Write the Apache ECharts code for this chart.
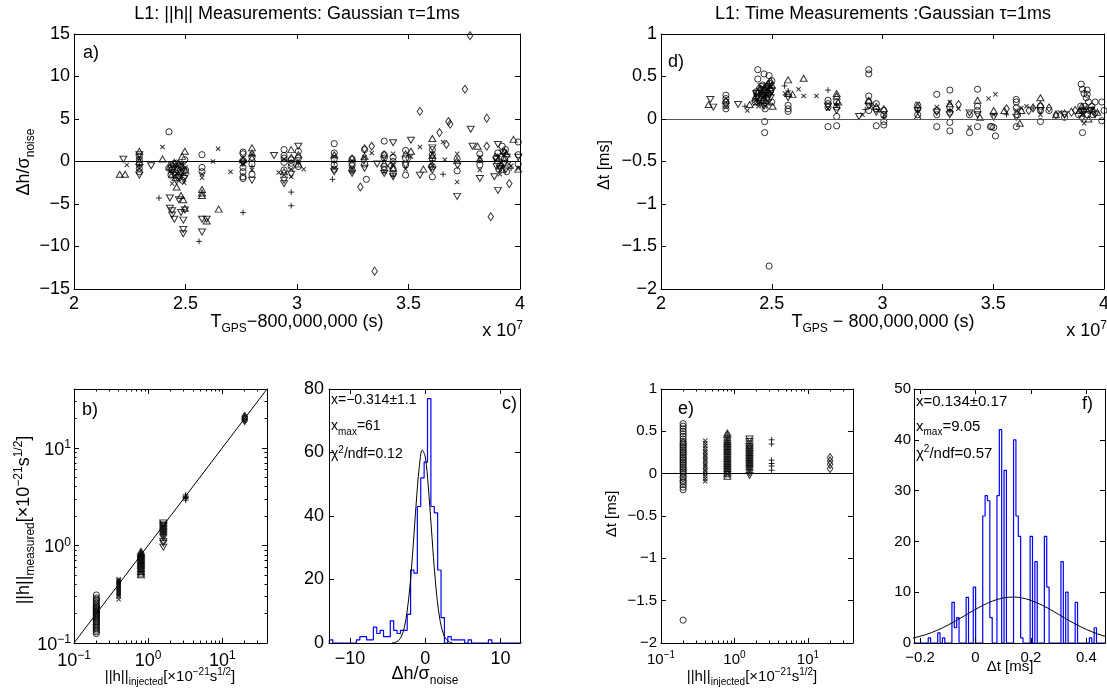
<!DOCTYPE html>
<html>
<head>
<meta charset="utf-8">
<script src="https://cdn.jsdelivr.net/npm/echarts@6.0.0/dist/echarts.min.js"></script>
<style>html,body{margin:0;padding:0;background:#fff;}#chart{width:1107px;height:689px;}</style>
</head>
<body>
<div id="chart"></div>
<script>
// ================= DATA =================
// panel a) : [T_GPS (x1e7), dh/sigma]
const a_circle = [[2.293,0.6],[2.293,0.2],[2.293,-0.3],[2.293,-0.8],[2.293,-1.2],
 [2.426,3.5],[2.435,-0.4],[2.44,-0.9],[2.45,-1.3],[2.46,-0.2],[2.47,-1.9],[2.48,-0.6],[2.49,-1.1],[2.497,0.2],[2.50,-1.0],[2.485,-2.2],[2.455,-1.6],
 [2.425,-0.8],[2.435,-1.6],[2.445,-0.3],[2.465,-1.0],[2.475,-0.4],[2.49,-1.8],
 [2.574,0.8],[2.574,-0.7],[2.574,-1.2],
 [2.758,1.1],[2.758,0.9],[2.758,-0.7],[2.758,-1.8],[2.758,-2.0],[2.758,0.1],[2.758,-1.2],[2.798,0.5],[2.798,-0.3],[2.798,-1.5],
 [2.942,1.4],[2.942,0.7],[2.942,-1.0],[2.942,-0.1],[2.942,0.4],[2.974,0.2],[2.974,-0.6],[2.974,-0.2],[3.006,1.2],[3.006,0.4],[3.006,-0.6],
 [3.167,2.1],[3.167,1.0],[3.167,0.3],[3.167,-0.4],[3.167,-0.9],[3.247,0.3],[3.247,-0.5],[3.247,-1.0],[3.247,-0.2],
 [3.303,1.4],[3.311,-2.1],[3.303,-0.3],[3.391,2.4],[3.391,0.8],[3.391,-0.6],[3.391,0.4],[3.391,-1.0],[3.431,0.5],[3.431,-1.4],[3.431,0.0],[3.431,-0.9],
 [3.487,1.3],[3.487,-1.6],[3.487,0.4],[3.487,-0.4],[3.607,1.4],[3.607,-1.8],[3.607,0.3],[3.607,-0.6],[3.607,0.8],[3.718,-1.1],[3.718,0.3],
 [3.82,0.9],[3.82,-0.4],[3.90,1.0],[3.91,-0.5],[3.92,1.8],[3.93,0.3],[3.94,-1.2],[3.895,0.4],[3.905,-0.9],[3.915,0.6],[3.925,-0.2],[3.935,1.4],
 [3.992,2.3],[3.992,0.8],[3.992,-0.3]];
const a_x = [[2.237,-0.4],[2.293,-0.9],[2.293,0.4],[2.397,1.7],[2.43,-1.2],[2.44,-2.6],[2.45,-0.5],[2.46,-1.4],[2.48,-1.6],[2.494,-2.5],[2.50,-0.7],
 [2.47,-2.1],[2.485,-0.9],
 [2.574,-1.5],[2.574,-1.9],[2.623,0],[2.646,1.5],[2.702,-1.2],[2.758,-0.3],[2.758,0.4],[2.798,-1.0],[2.798,0.9],[2.918,-1.3],[2.942,-1.6],[2.942,0.3],
 [2.974,-1.8],[2.974,-0.9],[3.03,-0.9],[3.006,0.1],[3.167,0.6],[3.167,-0.8],[3.247,-0.8],[3.247,0.1],[3.303,0.5],[3.335,1.0],[3.391,-1.2],[3.391,0.2],
 [3.431,-0.3],[3.431,0.9],[3.487,-0.9],[3.511,0.6],[3.551,1.7],[3.607,-0.5],[3.607,0.9],[3.655,2.3],[3.663,0.2],[3.718,0.9],[3.718,-2.4],
 [3.82,-1.0],[3.82,0.5],[3.89,0.2],[3.91,-1.5],[3.93,0.8],[3.95,-0.3],[3.96,-0.5],[3.992,-0.8]];
const a_plus = [[2.381,-4.3],[2.561,-9.4],[2.758,-6.0],[2.974,-3.6],[2.974,-5.2],[3.159,-2.1],[3.655,-1.5],[3.96,-0.8],[2.45,-1.0],[2.49,-0.3],
 [3.247,-1.2],[3.431,-1.7],[3.90,0.6],[2.293,-0.5],[2.798,-0.6],[3.006,-0.2],[3.167,-0.1],[3.607,0.1],[3.82,0.1]];
const a_tri = [[2.205,-1.5],[2.229,-1.5],[2.293,1.2],[2.293,0.0],[2.397,0.3],[2.44,-1.5],[2.45,-0.1],[2.46,-3.0],[2.47,-0.2],[2.48,-4.0],[2.49,-4.5],
 [2.497,-5.5],[2.497,1.2],[2.50,-1.1],[2.43,-0.6],[2.455,-1.9],[2.475,-1.2],[2.485,0.6],
 [2.574,-3.3],[2.574,-3.7],[2.574,-4.0],[2.595,-7.0],[2.649,-5.6],[2.798,1.6],[2.798,1.0],[2.798,0.4],[2.758,0.2],
 [2.942,-1.2],[2.974,1.4],[2.974,0.5],[3.006,0.8],[3.006,-0.3],[3.167,0.8],[3.247,0.4],[3.303,0.6],[3.391,0.9],[3.391,-0.2],[3.431,-0.8],[3.487,0.9],
 [3.511,1.2],[3.567,-0.9],[3.607,2.7],[3.607,0.7],[3.718,0.1],[3.81,1.8],[3.82,0.3],[3.92,-0.9],[3.93,1.2],[3.9,0.1],[3.915,-0.4],[3.94,0.9],
 [3.971,2.6],[3.992,-0.9]];
const a_tridown = [[2.221,0.27],[2.293,0.8],[2.293,-1.6],[2.346,-0.5],[2.43,-4.3],[2.43,-5.5],[2.44,-5.8],[2.44,-6.3],[2.45,-6.8],[2.46,-2.3],[2.47,-4.5],
 [2.48,-6.0],[2.49,-6.9],[2.49,-8.0],[2.49,-8.5],[2.497,-5.7],[2.44,-1.1],[2.465,-0.6],[2.48,-1.4],[2.495,-2.0],
 [2.574,-6.8],[2.574,-8.3],[2.595,-6.8],[2.758,-0.2],[2.798,-2.2],[2.897,0.7],[2.942,-2.6],
 [2.942,-2.2],[3.006,1.8],[2.974,-1.5],[3.167,-1.2],[3.247,-1.4],[3.303,-0.8],[3.359,-0.3],[3.391,-1.4],[3.431,2.2],[3.431,-1.8],[3.487,-0.4],[3.511,2.5],
 [3.551,-1.6],[3.607,1.6],[3.607,-1.0],[3.718,-4.1],[3.779,3.8],[3.787,1.8],[3.82,-2.0],[3.885,-1.8],[3.901,-3.4],[3.901,2.0],[3.91,-0.8],[3.93,-0.2],
 [3.895,-0.6],[3.925,1.0],[3.935,-1.0],[3.94,0.5],[3.992,0.5]];
const a_diamond = [[3.284,-3.0],[3.303,1.5],[3.335,1.8],[3.348,-12.9],[3.551,5.9],[3.639,3.4],[3.67,2.0],[3.679,4.7],[3.687,4.4],[3.753,8.5],[3.776,14.8],
 [3.851,5.1],[3.851,1.8],[3.869,-6.5],[3.952,-2.6],[3.42,-0.5],[3.5,0.4],[3.6,-0.6],[3.30,0.2],[3.72,-0.3],[3.89,0.5]];

// panel d) : [T_GPS (x1e7), dt ms]
const d_circle = [[2.293,0.28],[2.293,0.24],[2.293,0.2],[2.293,0.16],[2.293,0.12],
 [2.437,0.58],[2.437,0.47],[2.465,0.53],[2.488,0.51],[2.468,-0.03],[2.468,-0.16],[2.488,-1.73],[2.45,0.35],[2.47,0.3],[2.49,0.42],[2.50,0.45],[2.44,0.25],
 [2.48,0.38],[2.43,0.32],[2.46,0.4],[2.47,0.12],[2.425,0.2],[2.435,0.3],[2.445,0.36],[2.455,0.28],[2.465,0.22],[2.475,0.38],[2.485,0.3],[2.495,0.34],[2.50,0.2],
 [2.574,0.16],[2.574,0.12],[2.574,0.09],
 [2.754,0.22],[2.754,0.18],[2.754,-0.09],[2.754,0.14],[2.793,0.2],[2.793,-0.08],[2.793,0.03],[2.793,0.14],[2.938,0.58],[2.938,0.53],[2.938,0.27],[2.938,0.2],[2.938,0.1],
 [2.972,-0.08],[2.972,0.18],[2.972,0.12],[3.006,-0.03],[3.006,-0.07],[3.006,0.1],[3.006,0.05],[3.159,0.05],[3.159,0.12],[3.159,0.16],
 [3.245,0.29],[3.245,-0.09],[3.245,0.1],[3.245,0.05],
 [3.304,0.34],[3.304,-0.04],[3.304,-0.14],[3.304,0.08],[3.304,0.14],[3.393,-0.16],[3.393,0.05],[3.429,0.35],[3.429,-0.09],[3.429,0.1],[3.429,0.15],
 [3.487,-0.09],[3.493,-0.09],[3.51,-0.2],[3.502,-0.1],[3.604,0.23],[3.604,0.2],[3.604,-0.09],[3.61,0.05],[3.604,0.13],[3.713,-0.03],[3.713,0.1],[3.713,0.15],
 [3.752,0.1],[3.822,0.02],[3.897,0.41],[3.903,0.35],[3.91,0.3],[3.903,-0.16],[3.92,0.25],[3.924,0.34],[3.924,0.29],[3.93,0.2],[3.9,0.1],
 [3.885,0.05],[3.895,0.15],[3.905,0.1],[3.915,0.15],[3.925,0.05],[3.935,0.1],[3.945,0.15],
 [3.95,0.05],[3.96,0.2],[3.99,0.2],[3.99,-0.02],[4.0,0.1]];
const d_x = [[2.39,0.1],[2.293,0.14],[2.43,0.22],[2.44,0.15],[2.45,0.2],[2.47,0.15],[2.48,0.28],[2.49,0.2],[2.50,0.3],[2.425,0.18],[2.465,0.27],[2.495,0.38],
 [2.56,0.3],[2.621,0.35],[2.644,0.27],
 [2.702,0.27],[2.754,0.12],[2.793,0.15],[2.91,0.05],[2.95,0.15],[2.98,0.1],[3.01,0.05],[3.159,0.18],[3.245,0.14],[3.304,0.2],[3.343,0.12],[3.393,-0.1],
 [3.479,0.24],[3.51,0.29],[3.502,0.05],[3.604,0.1],[3.627,0.13],[3.65,0.15],[3.713,0.05],[3.8,0.08],[3.9,0.05],[3.91,-0.05],[3.95,0.12]];
const d_plus = [[2.379,0.15],[2.558,0.39],[2.754,0.34],[2.922,0.11],[3.159,0.1],[3.56,0.05],[3.68,0.13],[3.9,0.08],[2.47,0.25],[3.304,0.1],[2.574,0.33],
 [2.793,0.18],[3.006,0.02]];
const d_tri = [[2.215,0.17],[2.293,0.22],[2.40,0.17],[2.504,0.15],[2.43,0.28],[2.44,0.33],[2.45,0.25],[2.46,0.22],[2.46,0.3],[2.47,0.35],[2.48,0.33],
 [2.49,0.37],[2.50,0.4],[2.425,0.25],[2.455,0.32],[2.475,0.2],[2.485,0.42],[2.495,0.45],
 [2.574,0.46],[2.574,0.3],[2.594,0.29],[2.644,0.48],[2.793,0.3],[2.793,0.27],[2.80,0.2],[2.938,0.22],[2.972,0.15],[3.006,0.12],
 [3.159,0.03],[3.304,0.18],[3.429,0.22],[3.502,0.1],[3.55,0.1],[3.627,0.1],[3.713,0.25],[3.713,0.17],[3.783,0.05],[3.9,0.15],[3.93,0.0],[3.97,0.08],
 [3.89,0.1],[3.92,0.12],[3.44,0.02],[3.62,-0.05]];
const d_tridown = [[2.223,0.23],[2.236,0.14],[2.348,0.17],[2.43,0.3],[2.44,0.2],[2.45,0.18],[2.46,0.34],[2.47,0.27],[2.48,0.24],[2.49,0.28],[2.50,0.33],
 [2.435,0.25],[2.455,0.38],[2.465,0.15],[2.485,0.36],[2.495,0.25],
 [2.574,0.25],[2.754,0.15],[2.793,0.1],[2.894,0.03],[2.938,0.15],[2.972,0.08],[3.159,0.1],[3.245,0.08],[3.304,0.05],[3.393,0.07],[3.429,0.05],
 [3.502,0.02],[3.604,0.02],[3.713,0.1],[3.822,0.05],[3.9,0.0],[3.91,0.08],[3.94,0.1],[3.96,0.05]];
const d_diamond = [[3.343,0.17],[3.68,0.13],[3.66,0.1],[3.752,0.13],[3.783,0.05],[3.822,0.06],[3.853,0.08],[3.87,0.1],[3.95,0.1],[3.56,0.12]];

// injected amplitudes (circle, x, tri-up, tri-down, plus, diamond)
const amps = [0.2, 0.4, 0.8, 1.6, 3.2, 20];
// panel b) measured ||h||
const b_circle_y = [0.125,0.13,0.135,0.14,0.145,0.15,0.155,0.16,0.165,0.17,0.175,0.18,0.185,0.19,0.195,0.2,0.205,0.21,0.215,0.22,0.225,0.23,0.235,0.24,0.25,0.26,0.27,0.28,0.29,0.31];
const b_x_y = [0.28,0.3,0.31,0.32,0.33,0.34,0.35,0.36,0.37,0.38,0.39,0.4,0.41,0.42,0.43,0.44,0.45];
const b_tri_y = [0.5,0.52,0.54,0.56,0.58,0.6,0.62,0.64,0.66,0.68,0.7,0.72,0.74,0.76,0.78,0.8,0.82,0.84,0.87];
const b_tridown_y = [0.96,1.05,1.1,1.2,1.25,1.3,1.35,1.4,1.45,1.5,1.55,1.6,1.65,1.7];
const b_plus_y = [2.9,3.0,3.05,3.1,3.15,3.2,3.3];
const b_diamond_y = [19.0,19.5,20.0,20.5,21.0];
const b_diag = [[0.1,0.1],[40,40]];
// panel e) dt
const e_circle_y = [-1.73,-0.19,-0.16,-0.13,-0.1,-0.08,-0.05,-0.03,0,0.02,0.04,0.06,0.08,0.1,0.12,0.14,0.16,0.18,0.2,0.22,0.24,0.26,0.28,0.3,0.32,0.34,0.36,0.38,0.41,0.44,0.47,0.5,0.53,0.56,0.59];
const e_x_y = [-0.09,-0.06,-0.03,0,0.03,0.05,0.08,0.1,0.12,0.15,0.17,0.2,0.22,0.25,0.27,0.3,0.33,0.36,0.39];
const e_tri_y = [-0.03,0,0.02,0.04,0.06,0.08,0.1,0.12,0.14,0.16,0.18,0.2,0.22,0.24,0.26,0.28,0.3,0.32,0.34,0.36,0.38,0.4,0.43,0.46,0.48];
const e_tridown_y = [-0.02,0.01,0.04,0.06,0.08,0.1,0.12,0.14,0.16,0.18,0.2,0.22,0.24,0.26,0.28,0.3,0.32,0.35,0.38,0.41];
const e_plus_y = [0.04,0.09,0.12,0.16,0.35,0.4];
const e_diamond_y = [0.06,0.11,0.15,0.19];

// panel c) histogram of dh/sigma
const c_binStart = -12.75, c_binWidth = 0.45;
const c_counts = [1,0,0,0,0,0,0,0, 1,2,2,1,1, 5,3,4,2,2, 7,4,3,4,4, 9,23,22,43,52, 57,77,43,41,23, 8,0,2,1,1, 1,1,0,1,0, 0,0,0,0,1, 0,0,0,0,0,0,0,0,0];
const c_fit = [[-4.4,0.06],[-4.0,0.22],[-3.6,0.70],[-3.2,1.95],[-2.8,4.75],[-2.4,10.1],[-2.0,18.8],[-1.6,30.8],[-1.2,44.1],[-0.8,55.3],[-0.4,60.8],
 [0.0,58.6],[0.4,49.4],[0.8,36.5],[1.2,23.7],[1.6,13.4],[2.0,6.67],[2.4,2.91],[2.8,1.11],[3.2,0.37],[3.6,0.1]];
// panel f) histogram of dt
const f_binStart = -0.222, f_binWidth = 0.00855;
const f_counts = [0,0,0,0,0,0,1,0,0,0, 2,0,1,0,0,0,8,3,5,0, 0,0,9,0,0,11,0,0,0,25, 29,28,5,0,0,29,42,0,34,0,
 0,0,40,25,21,1,0,0,0,21, 0,16,0,0,0,21,11,0,0,0, 0,0,16,0,10,0,0,0,8,0, 0,0,0,0,1,0,3,0,0,0,0];
const f_fit = [[-0.26,0.62],[-0.22,1.04],[-0.18,1.64],[-0.14,2.47],[-0.10,3.51],[-0.06,4.72],[-0.02,6.00],[0.02,7.23],[0.06,8.23],[0.10,8.87],[0.14,9.04],
 [0.18,8.72],[0.22,7.96],[0.26,6.88],[0.30,5.62],[0.34,4.34],[0.38,3.18],[0.42,2.20],[0.46,1.44],[0.50,0.89]];

// tick values
const timeTicks = [2, 2.5, 3, 3.5, 4];
const logMajor = [0.1, 1, 10];
const logMinor = [0.2,0.3,0.4,0.5,0.6,0.7,0.8,0.9,2,3,4,5,6,7,8,9,20,30];
const cXTicks = [-10, 0, 10];
const fXTicks = [-0.2, 0, 0.2, 0.4];

// ================= STYLE / BUILD =================
const FONT = '"Liberation Sans", Arial, Helvetica, sans-serif';
const minus = v => String(v).replace('-', '\u2212');
function labelRich(M, S) {
  return {
    m: {fontSize: M, fontFamily: FONT, color: '#000', lineHeight: M, verticalAlign: 'top', padding: [2,0,0,0]},
    p: {fontSize: S, fontFamily: FONT, color: '#000', lineHeight: S, verticalAlign: 'top'}
  };
}
const logFmt = v => '{m|10}{p|' + minus(Math.round(Math.log10(v))) + '}';

const xAxes = [], yAxes = [];
function mkAxis(g, pos, s, o) {
  const ax = {
    gridIndex: g, position: pos, type: s.type, min: s.min, max: s.max, silent: true, z: 5,
    axisLine: {show: o.line !== false, onZero: false, lineStyle: {color: '#000', width: 1}},
    axisTick: {show: true, inside: true, length: o.len || 5, lineStyle: {color: '#000', width: 1}},
    axisLabel: {show: !!o.label, color: '#000', fontFamily: FONT, fontSize: o.fs || 18,
      margin: o.margin == null ? 6 : o.margin, showMinLabel: true, showMaxLabel: true, hideOverlap: false},
    splitLine: {show: false}, splitArea: {show: false}, minorTick: {show: false}, minorSplitLine: {show: false}
  };
  if (s.type === 'log') { ax.logBase = 10; ax.axisLabel.formatter = logFmt; ax.axisLabel.rich = labelRich(o.fs || 18, o.sfs || 12); }
  else { ax.axisLabel.formatter = minus; if (s.interval) ax.interval = s.interval; }
  const tv = o.ticks || s.ticks;
  if (tv) { ax.axisTick.customValues = tv; ax.axisLabel.customValues = tv; }
  return ax;
}
function addPanel(g, xs, ys, L) {
  const xi = xAxes.length, yi = yAxes.length;
  xAxes.push(mkAxis(g, 'bottom', xs, {label: true, fs: L.xfs, sfs: L.xsfs, margin: L.xm}));
  xAxes.push(mkAxis(g, 'top', xs, {}));
  if (xs.minor) {
    xAxes.push(mkAxis(g, 'bottom', xs, {line: false, len: 2.5, ticks: xs.minor}));
    xAxes.push(mkAxis(g, 'top', xs, {line: false, len: 2.5, ticks: xs.minor}));
  }
  yAxes.push(mkAxis(g, 'left', ys, {label: true, fs: L.yfs, sfs: L.ysfs, margin: L.ym}));
  yAxes.push(mkAxis(g, 'right', ys, {}));
  if (ys.minor) {
    yAxes.push(mkAxis(g, 'left', ys, {line: false, len: 2.5, ticks: ys.minor}));
    yAxes.push(mkAxis(g, 'right', ys, {line: false, len: 2.5, ticks: ys.minor}));
  }
  return {xi, yi};
}

const grids = [
  {left: 74,  top: 34,  width: 446, height: 255},
  {left: 661, top: 34,  width: 443, height: 255},
  {left: 74,  top: 389, width: 193, height: 254},
  {left: 329, top: 389, width: 191, height: 254},
  {left: 661, top: 389, width: 192, height: 254},
  {left: 914, top: 389, width: 191, height: 254}
].map(g => Object.assign({show: false, containLabel: false, outerBoundsMode: 'none'}, g));

const P_a = addPanel(0, {type:'value', min:2, max:4, interval:0.5}, {type:'value', min:-15, max:15, interval:5}, {xfs:18, yfs:18, xm:6, ym:4});
const P_d = addPanel(1, {type:'value', min:2, max:4, interval:0.5}, {type:'value', min:-2, max:1, interval:0.5}, {xfs:18, yfs:18, xm:6, ym:4});
const P_b = addPanel(2, {type:'log', min:0.1, max:40, ticks:logMajor, minor:logMinor}, {type:'log', min:0.1, max:40, ticks:logMajor, minor:logMinor}, {xfs:18, xsfs:12, yfs:18, ysfs:12, xm:7, ym:3});
const P_c = addPanel(3, {type:'value', min:-12.8, max:12.6, ticks:cXTicks}, {type:'value', min:0, max:80, interval:20}, {xfs:18, yfs:18, xm:7, ym:5});
const P_e = addPanel(4, {type:'log', min:0.1, max:41, ticks:logMajor, minor:logMinor}, {type:'value', min:-2, max:1, interval:0.5}, {xfs:15, xsfs:10, yfs:15, xm:7, ym:4});
const P_f = addPanel(5, {type:'value', min:-0.222, max:0.467, ticks:fXTicks}, {type:'value', min:0, max:50, interval:10}, {xfs:15, yfs:15, xm:7, ym:3});

const MK = {
  circle:  {symbol: 'circle', size: 6.2},
  x:       {symbol: 'path://M0,0L10,10M10,0L0,10', size: 4.3},
  plus:    {symbol: 'path://M5,0L5,10M0,5L10,5', size: 5.8},
  tri:     {symbol: 'triangle', size: [7, 6]},
  tridown: {symbol: 'triangle', size: [7, 6], rot: 180},
  diamond: {symbol: 'diamond', size: [5.5, 8]}
};
function sc(P, data, kind) {
  const m = MK[kind];
  return {type: 'scatter', xAxisIndex: P.xi, yAxisIndex: P.yi, data: data, symbol: m.symbol, symbolSize: m.size,
    symbolRotate: m.rot || 0, itemStyle: {color: 'none', borderColor: '#000', borderWidth: 1},
    silent: true, animation: false, emphasis: {disabled: true}, z: 3};
}
function zero(s, color) {
  s.markLine = {silent: true, symbol: 'none', animation: false, label: {show: false},
    lineStyle: {color: color, width: 1, type: 'solid'}, data: [{yAxis: 0}]};
  return s;
}
function stairs(start, w, counts) {
  const pts = [[start, 0]];
  counts.forEach((c, k) => pts.push([start + k * w, c]));
  pts.push([start + counts.length * w, 0]);
  return pts;
}
const col = (amp, ys) => ys.map(y => [amp, y]);

const series = [
  zero(sc(P_a, a_circle, 'circle'), '#000'), sc(P_a, a_x, 'x'), sc(P_a, a_plus, 'plus'),
  sc(P_a, a_tri, 'tri'), sc(P_a, a_tridown, 'tridown'), sc(P_a, a_diamond, 'diamond'),
  zero(sc(P_d, d_circle, 'circle'), '#555'), sc(P_d, d_x, 'x'), sc(P_d, d_plus, 'plus'),
  sc(P_d, d_tri, 'tri'), sc(P_d, d_tridown, 'tridown'), sc(P_d, d_diamond, 'diamond'),
  {type: 'line', xAxisIndex: P_b.xi, yAxisIndex: P_b.yi, data: b_diag, symbol: 'none', silent: true, animation: false,
   lineStyle: {color: '#000', width: 1}, z: 2},
  sc(P_b, col(amps[0], b_circle_y), 'circle'), sc(P_b, col(amps[1], b_x_y), 'x'), sc(P_b, col(amps[2], b_tri_y), 'tri'),
  sc(P_b, col(amps[3], b_tridown_y), 'tridown'), sc(P_b, col(amps[4], b_plus_y), 'plus'), sc(P_b, col(amps[5], b_diamond_y), 'diamond'),
  {type: 'line', xAxisIndex: P_c.xi, yAxisIndex: P_c.yi, data: stairs(c_binStart, c_binWidth, c_counts), step: 'end',
   symbol: 'none', silent: true, animation: false, lineStyle: {color: '#0000ff', width: 1.2}, z: 2},
  {type: 'line', xAxisIndex: P_c.xi, yAxisIndex: P_c.yi, data: c_fit, smooth: 0.35, symbol: 'none', silent: true,
   animation: false, lineStyle: {color: '#000', width: 1}, z: 3},
  zero(sc(P_e, col(amps[0], e_circle_y), 'circle'), '#000'), sc(P_e, col(amps[1], e_x_y), 'x'), sc(P_e, col(amps[2], e_tri_y), 'tri'),
  sc(P_e, col(amps[3], e_tridown_y), 'tridown'), sc(P_e, col(amps[4], e_plus_y), 'plus'), sc(P_e, col(amps[5], e_diamond_y), 'diamond'),
  {type: 'line', xAxisIndex: P_f.xi, yAxisIndex: P_f.yi, data: stairs(f_binStart, f_binWidth, f_counts), step: 'end',
   symbol: 'none', silent: true, animation: false, lineStyle: {color: '#0000ff', width: 1.2}, z: 2},
  {type: 'line', xAxisIndex: P_f.xi, yAxisIndex: P_f.yi, data: f_fit, smooth: 0.35, symbol: 'none', silent: true,
   animation: false, lineStyle: {color: '#000', width: 1}, z: 3}
];

// ----- texts -----
function rs(M, S) {
  const f = {fontFamily: FONT, fill: '#000', color: '#000'};
  const c = Math.round(M * 0.62 + 1);
  return {
    m: Object.assign({fontSize: M, lineHeight: M, verticalAlign: 'top', padding: [2,0,0,0]}, f),
    p: Object.assign({fontSize: S, lineHeight: S, verticalAlign: 'top', padding: [0,0,0,0]}, f),
    b: Object.assign({fontSize: S, lineHeight: S, verticalAlign: 'top', padding: [c,0,0,0]}, f)
  };
}
function T(x, y, text, M, S, o) {
  o = o || {};
  const al = o.align || 'center';
  return {type: 'text', x: x, y: y, rotation: o.rot || 0, silent: true, z: 100,
    style: {text: text, rich: rs(M, S || Math.round(M * 0.67)), fontSize: M, fontFamily: FONT, fill: '#000',
      align: al, textAlign: al, verticalAlign: 'middle', textVerticalAlign: 'middle'}};
}
const R90 = Math.PI / 2;
const graphics = [
  T(297, 14, 'L1: ||h|| Measurements: Gaussian \u03c4=1ms', 18),
  T(883, 14, 'L1: Time Measurements :Gaussian \u03c4=1ms', 18),
  T(22, 162, '{m|\u0394h/\u03c3}{b|noise}', 18, 12, {rot: R90}),
  T(297, 320, '{m|T}{b|GPS}{m|\u2212800,000,000 (s)}', 18, 12),
  T(523, 329, '{m|x 10}{p|7}', 18, 12, {align: 'right'}),
  T(83, 53, 'a)', 18, 12, {align: 'left'}),
  T(605, 165, '\u0394t [ms]', 16, 11, {rot: R90}),
  T(883, 320, '{m|T}{b|GPS}{m| \u2212 800,000,000 (s)}', 18, 12),
  T(1107, 329, '{m|x 10}{p|7}', 18, 12, {align: 'right'}),
  T(668, 62, 'd)', 18, 12, {align: 'left'}),
  T(170, 675, '{m|||h||}{b|injected}{m|[\u00d710}{p|\u221221}{m|s}{p|1/2}{m|]}', 15, 10),
  T(22, 520, '{m|||h||}{b|measured}{m|[\u00d710}{p|\u221221}{m|s}{p|1/2}{m|]}', 18, 12, {rot: R90}),
  T(82, 410, 'b)', 18, 12, {align: 'left'}),
  T(425, 672, '{m|\u0394h/\u03c3}{b|noise}', 18, 12),
  T(331, 400, 'x=\u22120.314\u00b11.1', 14, 10, {align: 'left'}),
  T(331, 424, '{m|x}{b|max}{m|=61}', 14, 10, {align: 'left'}),
  T(331, 452, '{m|\u03c7}{p|2}{m|/ndf=0.12}', 14, 10, {align: 'left'}),
  T(517, 404, 'c)', 18, 12, {align: 'right'}),
  T(752, 675, '{m|||h||}{b|injected}{m|[\u00d710}{p|\u221221}{m|s}{p|1/2}{m|]}', 15, 10),
  T(612, 514, '\u0394t [ms]', 15, 10, {rot: R90}),
  T(678, 409, 'e)', 18, 12, {align: 'left'}),
  T(916, 402, 'x=0.134\u00b10.17', 15, 10, {align: 'left'}),
  T(916, 425, '{m|x}{b|max}{m|=9.05}', 15, 10, {align: 'left'}),
  T(916, 452, '{m|\u03c7}{p|2}{m|/ndf=0.57}', 15, 10, {align: 'left'}),
  T(1093, 404, 'f)', 18, 12, {align: 'right'}),
  T(1010, 667, '\u0394t [ms]', 15, 10)
];

const chart = echarts.init(document.getElementById('chart'), null, {renderer: 'canvas'});
chart.setOption({
  backgroundColor: '#fff',
  animation: false,
  textStyle: {fontFamily: FONT},
  grid: grids,
  xAxis: xAxes,
  yAxis: yAxes,
  series: series,
  graphic: {elements: graphics}
});
</script>
</body>
</html>
